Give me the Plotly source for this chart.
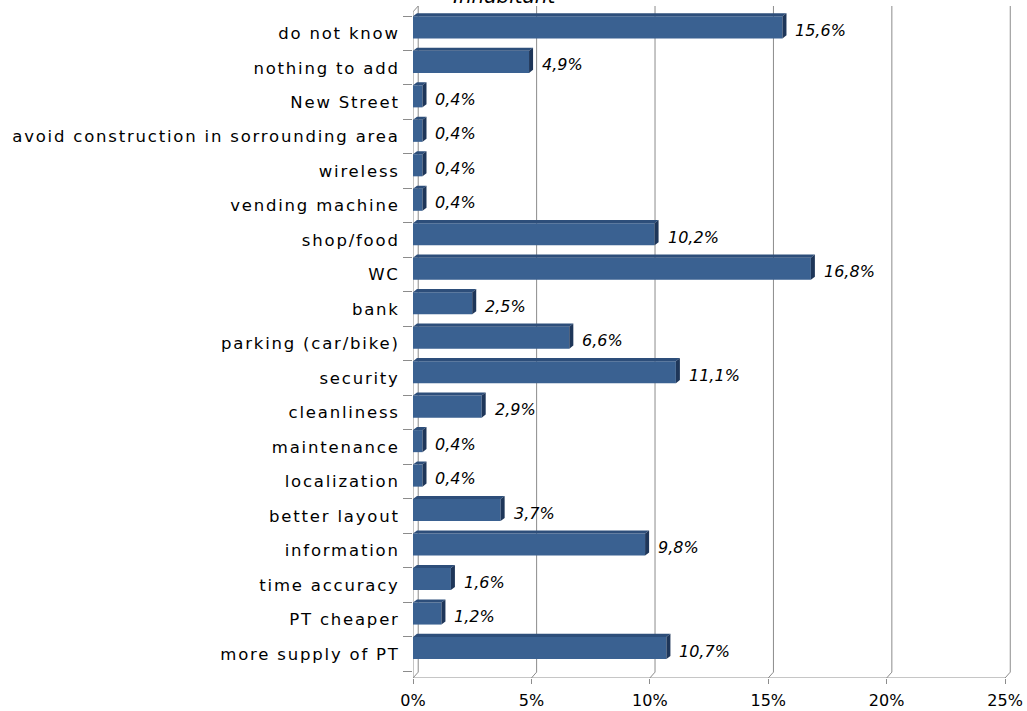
import plotly.graph_objects as go

# Categories listed bottom-to-top (index 0 sits at the bottom of the axis)
categories = [
    "more supply of PT", "PT cheaper", "time accuracy", "information",
    "better layout", "localization", "maintenance", "cleanliness",
    "security", "parking (car/bike)", "bank", "WC", "shop/food",
    "vending machine", "wireless", "avoid construction in sorrounding area",
    "New Street", "nothing to add", "do not know",
]
shares = [
    10.7, 1.2, 1.6, 9.8,
    3.7, 0.4, 0.4, 2.9,
    11.1, 6.6, 2.5, 16.8, 10.2,
    0.4, 0.4, 0.4,
    0.4, 4.9, 15.6,
]
x_ticks = [0, 5, 10, 15, 20, 25]
x_tick_text = ["0%", "5%", "10%", "15%", "20%", "25%"]

values = [v / 100 for v in shares]
labels = [f"{v:.1f}".replace(".", ",") + "%" for v in shares]
pos = list(range(len(categories)))

FONT = "DejaVu Sans"
BAR = "#3A6191"
BAR_TOP = "#2D4E7A"
BAR_SIDE = "#1E3659"
GRID = "#8C8C8C"

Y_LO, Y_HI = -0.7, 18.79
X_HI = 0.2542
BAR_W = 0.64
BAR_SHIFT = 0.17          # bars sit slightly behind the category labels
DX, DY = 0.0017, 0.09     # bar depth
GDX, GDY = 0.0022, 0.17   # wall/floor depth

fig = go.Figure()
fig.add_trace(go.Bar(
    y=pos, x=values, orientation="h",
    width=BAR_W, offset=BAR_SHIFT - BAR_W / 2,
    marker=dict(color=BAR, line=dict(width=0)),
    hoverinfo="skip",
))

shapes = []
# gridlines on the floor and back wall
for t in x_ticks:
    v = t / 100
    shapes.append(dict(
        type="path", xref="x", yref="y", layer="below",
        path=f"M {v},{Y_LO} L {v + GDX},{Y_LO + GDY} L {v + GDX},{Y_HI}",
        line=dict(color=GRID, width=1),
    ))
# left wall edge and floor front edge
shapes.append(dict(type="path", xref="x", yref="y", layer="below",
                   path=f"M 0,{Y_LO} L 0,{Y_HI - GDY} L {GDX},{Y_HI}",
                   line=dict(color=GRID, width=1)))
shapes.append(dict(type="line", xref="x", yref="y", layer="below",
                   x0=0, x1=x_ticks[-1] / 100, y0=Y_LO, y1=Y_LO,
                   line=dict(color=GRID, width=1)))

# top and side faces of each bar
for p, v in zip(pos, values):
    y0 = p + BAR_SHIFT - BAR_W / 2
    y1 = p + BAR_SHIFT + BAR_W / 2
    shapes.append(dict(
        type="path", xref="x", yref="y", layer="above",
        path=f"M 0,{y1} L {DX},{y1 + DY} L {v + DX},{y1 + DY} L {v},{y1} Z",
        fillcolor=BAR_TOP, line=dict(width=0),
    ))
    shapes.append(dict(
        type="path", xref="x", yref="y", layer="above",
        path=f"M {v},{y1} L {v + DX},{y1 + DY} L {v + DX},{y0 + DY} L {v},{y0} Z",
        fillcolor=BAR_SIDE, line=dict(width=0),
    ))

annotations = []
for p, v, lab in zip(pos, values, labels):
    annotations.append(dict(
        x=v, y=p + 0.08, xref="x", yref="y", text=lab,
        showarrow=False, xanchor="left", yanchor="middle", xshift=11,
        font=dict(family=FONT, size=16, color="#000000", style="italic"),
    ))
# chart title, partly above the top edge of the page
annotations.append(dict(
    x=(505 - 413) / (1027 - 413 - 12), y=1, xref="paper", yref="paper",
    text="Inhabitant", showarrow=False, xanchor="center", yanchor="middle",
    yshift=10,
    font=dict(family=FONT, size=20, color="#000000", style="italic"),
))

fig.update_layout(
    width=1027, height=711,
    margin=dict(l=413, r=12, t=6, b=33, autoexpand=False),
    paper_bgcolor="white", plot_bgcolor="white",
    showlegend=False,
    shapes=shapes, annotations=annotations,
    xaxis=dict(
        range=[0, X_HI], showgrid=False, zeroline=False, showline=False,
        automargin=False,
        tickvals=[t / 100 for t in x_ticks], ticktext=x_tick_text,
        ticks="outside", ticklen=5, tickcolor=GRID, ticklabelstandoff=3,
        tickfont=dict(family=FONT, size=16, color="#000000"),
    ),
    yaxis=dict(
        range=[Y_LO, Y_HI], showgrid=False, zeroline=False, showline=False,
        automargin=False,
        tickvals=pos, ticktext=categories,
        ticks="outside", ticklen=9, tickcolor="rgba(0,0,0,0)",
        tickfont=dict(family=FONT, size=16.5, color="#000000"),
        minor=dict(tickvals=[p - 0.5 for p in pos] + [pos[-1] + 0.5],
                   ticks="outside", ticklen=9, tickcolor=GRID, showgrid=False),
    ),
)

# category labels are set with open letter spacing
spacing_js = """
var gd = document.getElementById('{plot_id}');
function spaceLabels() {
  gd.querySelectorAll('.ytick text').forEach(function (t) {
    t.style.letterSpacing = '1.8px';
  });
}
spaceLabels();
gd.on('plotly_afterplot', spaceLabels);
"""

fig.write_html("out.html", post_script=spacing_js)
